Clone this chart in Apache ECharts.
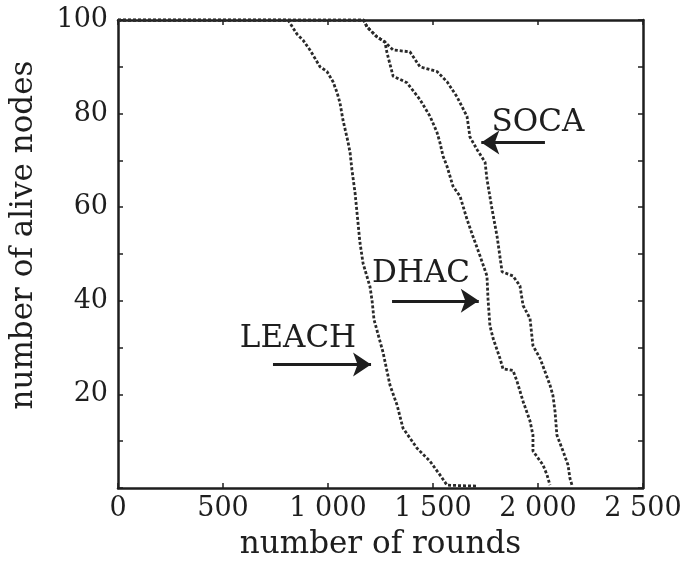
<!DOCTYPE html>
<html>
<head>
<meta charset="utf-8">
<script src="https://cdn.jsdelivr.net/npm/echarts@6/dist/echarts.min.js"></script>
<style>
  html, body { margin: 0; padding: 0; background: #fff; }
  #chart { width: 693px; height: 565px; }
</style>
</head>
<body>
<div id="chart"></div>
<script>
// Alive nodes vs rounds for three clustering protocols

// [round, alive nodes]
const leach = [
  [0, 100], [810, 100], [852, 97], [881, 95.7], [914, 93.6], [962, 90], [995, 89],
  [1024, 86.8], [1043, 84.5], [1057, 82.3], [1071, 78.7], [1095, 74], [1105, 71.7],
  [1114, 68], [1129, 63], [1152, 52.5], [1167, 48], [1200, 43], [1210, 40], [1219, 36],
  [1262, 29], [1295, 22], [1329, 17.7], [1357, 12.8], [1424, 8.5], [1486, 5.7],
  [1533, 2.8], [1567, 0.6], [1710, 0.4]
];
const dhac = [
  [0, 100], [1170, 100], [1186, 98.5], [1233, 96.4], [1271, 95.3], [1281, 93], [1310, 88],
  [1376, 86.6], [1438, 83], [1486, 79.4], [1519, 76], [1533, 73.8], [1548, 70.9],
  [1567, 68.7], [1595, 64.5], [1629, 62.3], [1662, 57.4], [1690, 53.8], [1724, 49.6],
  [1757, 45.3], [1762, 40.4], [1771, 34.7], [1786, 32], [1819, 27.7], [1833, 25.5],
  [1881, 25.1], [1900, 22.8], [1929, 18.5], [1962, 14.3], [1976, 11.3], [1976, 7.9],
  [2024, 4.9], [2043, 2.8], [2057, 0.6]
];
const soca = [
  [0, 100], [1170, 100], [1186, 98.5], [1233, 96.4], [1271, 95.3], [1310, 93.6],
  [1390, 93.2], [1438, 90], [1519, 89], [1567, 86.8], [1614, 83.6], [1662, 79.4],
  [1676, 75], [1710, 72.3], [1748, 69.6], [1757, 66], [1781, 59.6], [1805, 53.8],
  [1829, 46.2], [1881, 45.3], [1914, 43.2], [1929, 39], [1962, 36.2], [1976, 30.4],
  [2010, 27.7], [2057, 22], [2071, 19.8], [2081, 16.4], [2090, 11.3], [2119, 7.9],
  [2143, 4.9], [2152, 2.1], [2162, 0.6]
];

// annotation text positions and arrows (data units)
const labelNames = ['SOCA', 'DHAC', 'LEACH'];
const labelPos = [[2000, 77.9], [1443, 45.7], [857, 31.9]];
const arrows = [
  [[2033, 73.8], [1730, 73.8]],
  [[1305, 40], [1718, 40]],
  [[738, 26.4], [1205, 26.4]]
];

const FONT = 'DejaVu Serif';
const INK = '#1e1e1e';

const chart = echarts.init(document.getElementById('chart'));

function fmtRounds(v) {
  if (v < 1000) return String(v);
  return Math.floor(v / 1000) + ' ' + String(v % 1000).padStart(3, '0');
}

function curve(name, data) {
  return {
    name: name,
    type: 'line',
    data: data,
    showSymbol: false,
    silent: true,
    lineStyle: { color: '#2a2a2a', width: 2.8, type: [3, 2] }
  };
}

const baseX = {
  type: 'value', min: 0, max: 2500, interval: 500,
  splitLine: { show: false },
  axisLine: { show: true, onZero: false, lineStyle: { color: INK, width: 2.5 } },
  axisTick: { show: true, inside: true, length: 5, lineStyle: { color: INK, width: 1.5 } }
};
const baseY = {
  type: 'value', min: 0, max: 100, interval: 10,
  splitLine: { show: false },
  axisLine: { show: true, onZero: false, lineStyle: { color: INK, width: 2.5 } },
  axisTick: { show: true, inside: true, length: 5, lineStyle: { color: INK, width: 1.5 } }
};

chart.setOption({
  backgroundColor: '#fff',
  animation: false,
  grid: { left: 118, right: 50, top: 20, bottom: 75, containLabel: false },
  xAxis: [
    Object.assign({}, baseX, {
      position: 'bottom',
      name: 'number of rounds',
      nameLocation: 'middle',
      nameGap: 41,
      nameTextStyle: { fontFamily: FONT, fontSize: 31, color: INK },
      axisLabel: { formatter: fmtRounds, fontFamily: FONT, fontSize: 27, color: INK, margin: 7 }
    }),
    Object.assign({}, baseX, { position: 'top', axisLabel: { show: false } })
  ],
  yAxis: [
    Object.assign({}, baseY, {
      position: 'left',
      axisLabel: {
        formatter: v => (v > 0 && v % 20 === 0 ? String(v) : ''),
        fontFamily: FONT, fontSize: 27, color: INK, margin: 10
      }
    }),
    Object.assign({}, baseY, { position: 'right', axisLabel: { show: false } })
  ],
  graphic: [{
    type: 'text',
    x: 24, y: 235,
    rotation: Math.PI / 2,
    style: {
      text: 'number of alive nodes',
      font: '31px "' + FONT + '"',
      fill: INK,
      align: 'center',
      verticalAlign: 'middle'
    }
  }],
  series: [
    curve('LEACH', leach),
    curve('DHAC', dhac),
    curve('SOCA', soca),
    {
      name: 'labels',
      type: 'scatter',
      silent: true,
      symbolSize: 1,
      itemStyle: { color: 'rgba(0,0,0,0)', opacity: 1 },
      data: labelNames.map((n, i) => ({ name: n, value: labelPos[i] })),
      label: {
        show: true, position: 'inside', formatter: p => p.name,
        fontFamily: FONT, fontSize: 31, color: INK, opacity: 1
      },
      markLine: {
        silent: true,
        symbol: ['none', 'arrow'],
        symbolSize: 18,
        label: { show: false },
        lineStyle: { color: INK, width: 3, type: 'solid', opacity: 1 },
        data: arrows.map(a => [{ coord: a[0] }, { coord: a[1] }])
      }
    }
  ]
});
</script>
</body>
</html>
